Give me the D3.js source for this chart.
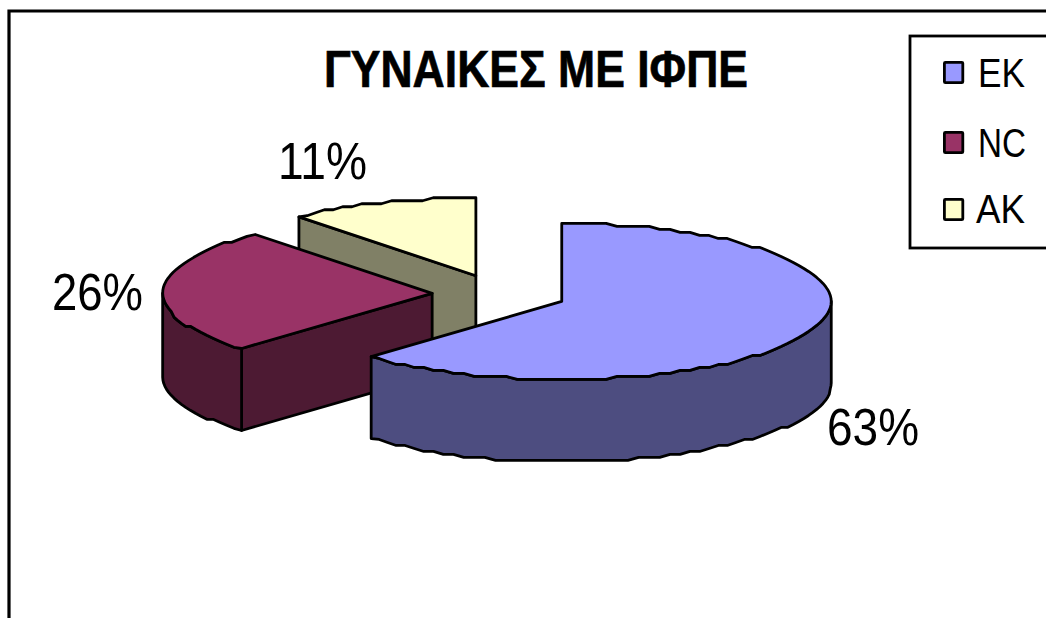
<!DOCTYPE html>
<html>
<head>
<meta charset="utf-8">
<script src="https://cdn.jsdelivr.net/npm/d3@7"></script>
<style>
  html, body { margin: 0; background: #fff; overflow: hidden; }
  text { font-family: "Liberation Sans", Arial, sans-serif; fill: #000; }
</style>
</head>
<body>
<svg id="chart"></svg>
<script>
const chartTitle = 'ΓΥΝΑΙΚΕΣ ΜΕ ΙΦΠΕ';
const categories = ['EK', 'NC', 'AK'];
// printed labels; the drawn wedges are a little off these, so sweep is read from the wedges
const pctLabels = ['63%', '26%', '11%'];
const sweepValues = [62.5, 26.1, 11.4];
const topColors = ['#9999ff', '#993366', '#ffffcc'];
const sideColors = ['#4d4d80', '#4d1a33', '#808066'];

const width = 1046;
const height = 618;
const center = { x: 499.5, y: 294 };
const rx = 269.5;
const ry = 78;
const depth = 82;
const explode = 0.25;
const edgeWidth = 2.8;
const labelBoxes = [[828, 445, 90], [53, 310, 89], [279, 179, 87]];
const legendRows = [72.5, 142.5, 209.5];
const legendBase = [87, 157, 222.5];
const legendText = [[978, 47], [978, 48], [976, 49]];

const svg = d3.select('#chart').attr('width', width).attr('height', height)
  .attr('viewBox', `0 0 ${width} ${height}`);

// chart area border runs off the right and bottom of the crop
svg.append('path')
  .attr('d', `M9,${height} V11 H${width}`)
  .attr('fill', 'none').attr('stroke', '#000').attr('stroke-width', 3.2);

svg.append('text')
  .attr('x', 324).attr('y', 87)
  .attr('font-size', 51.5).attr('font-weight', 700)
  .attr('stroke', '#000').attr('stroke-width', 0.7)
  .attr('textLength', 424).attr('lengthAdjust', 'spacingAndGlyphs')
  .text(chartTitle);

const pie = d3.pie().sort(null).value(d => d);
const slices = pie(sweepValues).map((s, i) => {
  const mid = (s.startAngle + s.endAngle) / 2;
  return {
    ...s,
    i,
    cx: center.x + Math.sin(mid) * rx * explode,
    cy: center.y - Math.cos(mid) * ry * explode
  };
});

const line = d3.line();
function rim(s, a, dy = 0) {
  return [s.cx + Math.sin(a) * rx, s.cy - Math.cos(a) * ry + dy];
}
function sampleAngles(a0, a1) {
  const n = Math.max(2, Math.ceil((a1 - a0) * 24));
  return d3.range(n + 1).map(k => a0 + (a1 - a0) * k / n);
}
// the original's curved edges are rough, snap inner rim points to a coarse grid
function roughRim(s, angles, dy = 0) {
  return angles.map((a, k) => {
    const p = rim(s, a, dy);
    if (k === 0 || k === angles.length - 1) return p;
    return [p[0], Math.round((p[1] - s.cy) / 3) * 3 + s.cy];
  });
}
function topPath(s) {
  const pts = roughRim(s, sampleAngles(s.startAngle, s.endAngle));
  return line([[s.cx, s.cy], ...pts]) + 'Z';
}
function wallPath(s) {
  const a0 = Math.max(s.startAngle, Math.PI / 2);
  const a1 = Math.min(s.endAngle, Math.PI * 3 / 2);
  if (a1 <= a0) return null;
  // same samples as the top face, keeps the wall tucked under its rim
  const angles = sampleAngles(s.startAngle, s.endAngle);
  const upper = roughRim(s, angles).filter((p, k) => angles[k] >= a0 && angles[k] <= a1);
  const lower = roughRim(s, angles, depth).filter((p, k) => angles[k] >= a0 && angles[k] <= a1).reverse();
  return line([rim(s, a0), ...upper, rim(s, a1), rim(s, a1, depth), ...lower, rim(s, a0, depth)]) + 'Z';
}
function cutFace(s, a) {
  return line([
    [s.cx, s.cy], rim(s, a), rim(s, a, depth), [s.cx, s.cy + depth]
  ]) + 'Z';
}

// back slices first so the nearer ones paint over them
const drawOrder = [2, 1, 0];
const pieLayer = svg.append('g')
  .attr('stroke', '#000').attr('stroke-width', edgeWidth).attr('stroke-linejoin', 'round');

drawOrder.forEach(i => {
  const s = slices[i];
  const g = pieLayer.append('g');
  if (s.startAngle > Math.PI) {
    g.append('path').attr('d', cutFace(s, s.startAngle)).attr('fill', sideColors[i]);
  }
  const wall = wallPath(s);
  if (wall) g.append('path').attr('d', wall).attr('fill', sideColors[i]);
  g.append('path').attr('d', topPath(s)).attr('fill', topColors[i]);
});

svg.selectAll('.pct').data(pctLabels).join('text')
  .attr('class', 'pct')
  .attr('x', (d, i) => labelBoxes[i][0] - 1)
  .attr('y', (d, i) => labelBoxes[i][1])
  .attr('font-size', 51)
  .attr('textLength', (d, i) => labelBoxes[i][2] + 2)
  .attr('lengthAdjust', 'spacingAndGlyphs')
  .text(d => d);

// legend box, also clipped on the right
const legendX = 910;
svg.append('rect')
  .attr('x', legendX).attr('y', 36).attr('width', 150).attr('height', 212)
  .attr('fill', '#fff').attr('stroke', '#000').attr('stroke-width', edgeWidth);

const legend = svg.selectAll('.legend-item').data(categories).join('g')
  .attr('class', 'legend-item');
legend.append('rect')
  .attr('x', 944.4).attr('y', (d, i) => legendRows[i] - 10.2)
  .attr('width', 18.4).attr('height', 20.4).attr('rx', 1)
  .attr('fill', (d, i) => topColors[i])
  .attr('stroke', '#000').attr('stroke-width', edgeWidth);
legend.append('text')
  .attr('x', (d, i) => legendText[i][0]).attr('y', (d, i) => legendBase[i])
  .attr('font-size', 41)
  .attr('textLength', (d, i) => legendText[i][1])
  .attr('lengthAdjust', 'spacingAndGlyphs')
  .text(d => d);
</script>
</body>
</html>
